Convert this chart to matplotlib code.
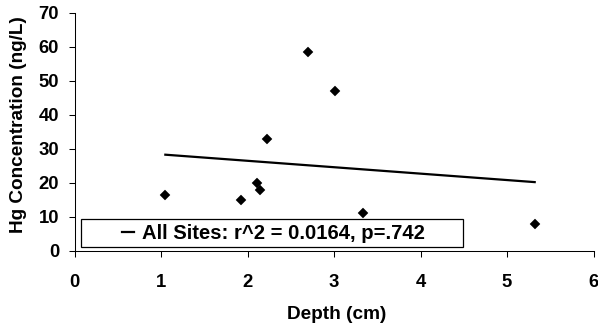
import numpy as np
import matplotlib
matplotlib.use("Agg")
import matplotlib.pyplot as plt
from matplotlib.patches import Rectangle

plt.rcParams['font.family'] = ['Liberation Sans', 'DejaVu Sans']
plt.rcParams['font.weight'] = 'bold'

# Data
depth = [1.05, 1.93, 2.11, 2.14, 2.22, 2.70, 3.01, 3.34, 5.32]
hg = [16.5, 15.0, 20.0, 18.0, 33.0, 58.5, 47.0, 11.0, 8.0]
legend_label = "All Sites: r^2 = 0.0164, p=.742"
x_ticks = [0, 1, 2, 3, 4, 5, 6]
y_ticks = [0, 10, 20, 30, 40, 50, 60, 70]

fig = plt.figure(figsize=(5.98, 3.30), dpi=100)
ax = fig.add_axes([0.1246, 0.2403, 0.8679, 0.7212])

ax.plot(depth, hg, linestyle='none', marker='D', ms=4.6, mew=0.3,
        color='black', zorder=3)

# linear trend line
slope, intercept = np.polyfit(depth, hg, 1)
xs = np.array([min(depth), max(depth)])
trend, = ax.plot(xs, slope * xs + intercept, color='black', lw=1.6, zorder=2)

ax.set_xlim(0, 6)
ax.set_ylim(0, 70)
ax.set_xticks(x_ticks)
ax.set_yticks(y_ticks)
ax.set_xticklabels([str(t) for t in x_ticks], fontsize=13.3, fontweight='bold')
ax.set_yticklabels([str(t) for t in y_ticks], fontsize=13.3, fontweight='bold')
ax.tick_params(axis='x', direction='out', length=4.6, width=0.75, pad=12.5)
ax.tick_params(axis='y', direction='out', length=4.6, width=0.75, pad=6.5)

for s in ('top', 'right'):
    ax.spines[s].set_visible(False)
for s in ('left', 'bottom'):
    ax.spines[s].set_linewidth(0.75)
    ax.spines[s].set_color('black')

ax.set_xlabel("Depth (cm)", fontsize=13.7, fontweight='bold')
ax.set_ylabel("Hg Concentration (ng/L)", fontsize=13.7, fontweight='bold')
ax.xaxis.set_label_coords(0.505, -0.232)
ax.yaxis.set_label_coords(-0.0915, 0.532)

# legend box
x0, y0, x1, y1 = 0.0125, 0.0143, 0.7486, 0.133
ax.add_patch(Rectangle((x0, y0), x1 - x0, y1 - y0, transform=ax.transAxes,
                       fill=True, facecolor='white', edgecolor='black',
                       lw=0.9, clip_on=False, zorder=4))
leg = ax.legend([trend], [legend_label], loc='center',
                bbox_to_anchor=(0.383, (y0 + y1) / 2),
                frameon=False, handlelength=0.6, handletextpad=0.4,
                borderpad=0, prop={'size': 14.6, 'weight': 'bold'})
leg.set_zorder(5)

fig.savefig("out.png", dpi=100)
